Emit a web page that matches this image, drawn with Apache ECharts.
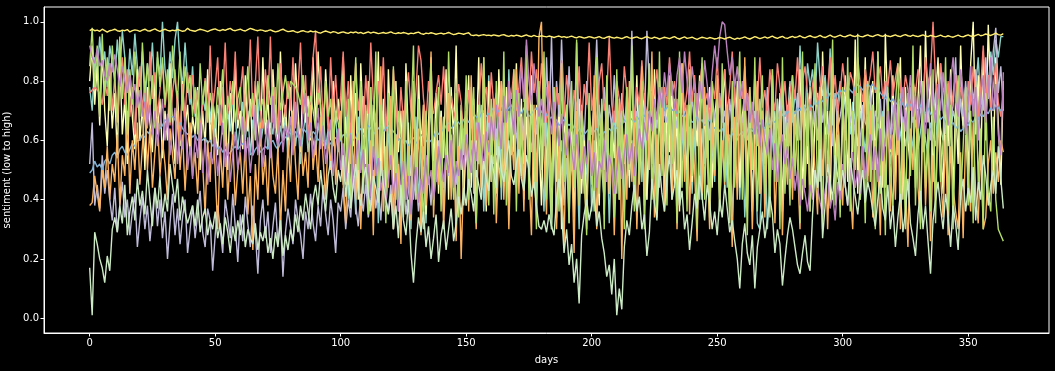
<!DOCTYPE html>
<html>
<head>
<meta charset="utf-8">
<script src="https://cdn.jsdelivr.net/npm/echarts@6/dist/echarts.min.js"></script>
<style>html,body{margin:0;padding:0;background:#000}#c{width:1055px;height:371px}</style>
</head>
<body>
<div id="c"></div>
<script>
const xTicks = [0,50,100,150,200,250,300,350];
const yTicks = [0,0.2,0.4,0.6,0.8,1.0];
const colors = ['#8dd3c7','#feffb3','#bfbbd9','#fa8174','#81b1d2','#fdb462','#b3de69','#bc82bd','#ccebc4','#ffed6f'];

const s1 = [.78,.7,.88,.82,.95,.84,.9,.78,.92,.86,
.8,.94,.83,.97,.88,.76,.91,.82,.96,.85,
.78,.9,.72,.86,.8,.93,.75,.88,.82,1.0,
.84,.77,.9,.81,.94,1.0,.86,.78,.93,.8,
.72,.85,.68,.78,.62,.75,.7,.82,.66,.76,
.6,.72,.65,.78,.58,.7,.63,.75,.68,.57,
.66,.73,.6,.7,.55,.67,.62,.74,.58,.64,
.7,.57,.66,.62,.72,.56,.65,.6,.68,.54,
.63,.7,.58,.66,.52,.62,.69,.56,.64,.6,
.55,.66,.6,.71,.57,.64,.5,.62,.68,.56,
.66,.45,.72,.4,.62,.55,.35,.68,.5,.75,
.42,.6,.78,.38,.64,.32,.56,.7,.44,.6,
.74,.48,.62,.36,.58,.7,.4,.66,.3,.54,
.68,.38,.6,.5,.32,.62,.72,.42,.58,.46,
.7,.36,.56,.76,.44,.62,.34,.52,.68,.4,
.64,.48,.78,.42,.6,.52,.72,.36,.58,.82,
.46,.7,.55,.8,.4,.66,.5,.84,.58,.74,
.44,.76,.6,.52,.82,.48,.7,.6,.4,.72,
.58,.36,.68,.5,.3,.64,.34,.52,.6,.38,
.54,.32,.66,.44,.58,.3,.62,.42,.5,.68,
.36,.6,.46,.72,.5,.4,.64,.32,.56,.7,
.42,.62,.54,.36,.7,.48,.6,.38,.56,.74,
.46,.66,.4,.6,.76,.5,.42,.68,.56,.78,
.48,.7,.44,.6,.74,.38,.58,.7,.46,.64,
.42,.6,.76,.4,.64,.52,.7,.36,.6,.46,
.7,.38,.56,.66,.44,.62,.34,.54,.68,.4,
.62,.34,.52,.68,.4,.58,.32,.3,.54,.64,
.3,.48,.6,.7,.5,.62,.76,.56,.68,.8,
.66,.76,.7,.92,.74,.68,.86,.78,.84,.72,
.93,.8,.75,.82,.7,.91,.65,.76,.72,.8,
.68,.75,.7,.62,.73,.66,.58,.7,.64,.56,
.68,.6,.72,.55,.66,.62,.7,.58,.64,.52,
.6,.66,.55,.62,.68,.58,.64,.54,.6,.67,
.57,.63,.7,.6,.55,.66,.62,.58,.72,.64,
.6,.68,.75,.62,.7,.66,.8,.72,.65,.76,
.7,.82,.74,.78,.88,.72,.8,.85,.76,.9,
.82,.94,.88,.95,.95];

const s2 = [.8,.92,.72,.85,.65,.9,.7,.58,.82,.64,
.76,.55,.88,.62,.74,.52,.8,.68,.57,.84,
.6,.72,.5,.78,.66,.56,.82,.62,.74,.54,
.7,.6,.86,.65,.52,.76,.58,.8,.64,.72,
.56,.68,.62,.78,.5,.7,.58,.84,.6,.74,
.66,.55,.8,.62,.72,.5,.76,.6,.86,.64,
.7,.57,.82,.63,.74,.55,.8,.66,.58,.88,
.62,.75,.56,.84,.68,.6,.9,.64,.72,.58,
.78,.62,.86,.7,.56,.82,.66,.75,.6,.88,
.64,.9,.7,.58,.84,.68,.6,.8,.66,.74,
.6,.88,.66,.45,.82,.58,.76,.4,.86,.64,
.52,.8,.42,.72,.6,.9,.48,.74,.38,.84,
.62,.44,.8,.56,.7,.36,.86,.6,.48,.76,
.4,.82,.58,.72,.35,.66,.88,.5,.76,.42,
.7,.54,.84,.4,.78,.6,.92,.46,.72,.38,
.64,.82,.44,.74,.56,.88,.42,.7,.36,.8,
.58,.74,.42,.84,.6,.46,.78,.35,.7,.56,
.86,.48,.74,.4,.68,.52,.82,.44,.72,.6,
.38,.78,.5,.7,.34,.66,.46,.76,.3,.62,
.72,.4,.66,.34,.6,.74,.42,.64,.36,.7,
.48,.76,.56,.38,.72,.5,.8,.42,.66,.54,
.74,.4,.68,.52,.78,.44,.7,.58,.82,.46,
.66,.76,.4,.7,.52,.84,.46,.68,.76,.38,
.72,.56,.8,.44,.7,.36,.86,.6,.5,.78,
.46,.72,.58,.82,.4,.7,.54,.78,.44,.68,
.76,.42,.7,.84,.56,.38,.72,.5,.8,.44,
.68,.76,.46,.7,.36,.64,.78,.42,.7,.52,
.74,.4,.82,.58,.46,.76,.36,.7,.54,.78,
.44,.7,.6,.84,.4,.72,.52,.78,.42,.68,
.76,.46,.9,.6,.7,.38,.8,.52,.72,.4,
.66,.82,.46,.74,.56,.94,.42,.78,.6,.88,
.48,.72,.8,.5,.9,.66,.44,.96,.7,.56,
.82,.46,.72,.88,.4,.78,.6,.5,.84,.44,
.74,.92,.56,.97,.66,.82,.46,.74,.88,.6,
.42,.8,.58,.84,.4,.74,.52,.92,.64,.78,
.46,.86,1.0,.62,.82,.5,.9,.6,.99,.74,
.5,.88,.66,.45,.8];

const s3 = [.52,.66,.38,.45,.37,.55,.42,.5,.4,.33,
.44,.29,.38,.46,.34,.4,.28,.36,.42,.24,
.33,.41,.3,.38,.26,.35,.44,.31,.4,.27,
.36,.2,.32,.42,.28,.37,.25,.34,.4,.22,
.3,.38,.27,.35,.43,.29,.24,.37,.33,.16,
.28,.38,.3,.22,.4,.34,.27,.42,.31,.19,
.35,.26,.41,.32,.24,.38,.29,.15,.33,.4,
.27,.36,.22,.31,.39,.25,.34,.14,.29,.37,
.31,.25,.4,.33,.28,.2,.36,.3,.42,.32,
.26,.38,.31,.45,.35,.28,.4,.33,.22,.39,
.36,.44,.3,.4,.34,.48,.38,.31,.42,.36,
.46,.34,.4,.5,.37,.44,.33,.48,.4,.36,
.45,.3,.42,.52,.38,.47,.35,.43,.55,.4,
.5,.36,.44,.58,.42,.48,.38,.53,.46,.6,
.5,.44,.56,.48,.62,.52,.45,.58,.5,.64,
.55,.48,.6,.52,.66,.56,.5,.62,.54,.68,
.58,.52,.64,.56,.7,.6,.5,.66,.58,.72,
.62,.55,.68,.6,.74,.64,.56,.7,.62,.78,
.66,.58,.88,.64,.95,.6,.8,.68,.94,.7,
.62,.85,.66,.58,.93,.64,.72,.6,.8,.68,
.62,.74,.94,.7,.66,.78,.6,.72,.64,.82,
.68,.6,.76,.66,.72,.58,.97,.64,.7,.62,
.74,.66,.97,.78,.68,.72,.64,.8,.62,.7,
.66,.74,.58,.7,.64,.78,.6,.72,.68,.62,
.75,.64,.7,.58,.8,.66,.72,.6,.74,.68,
.62,.76,.66,.7,.58,.74,.64,.78,.6,.7,
.66,.72,.6,.76,.64,.7,.58,.74,.66,.62,
.78,.64,.7,.6,.74,.66,.8,.62,.72,.58,
.7,.64,.76,.6,.68,.72,.58,.74,.64,.7,
.6,.78,.66,.72,.62,.7,.58,.76,.64,.68,
.74,.6,.82,.66,.7,.62,.76,.58,.72,.66,
.64,.78,.6,.7,.66,.74,.58,.8,.68,.62,
.72,.66,.58,.76,.64,.7,.6,.78,.66,.72,
.62,.7,.8,.66,.74,.6,.68,.76,.64,.86,
.7,.62,.78,.66,.72,.88,.64,.74,.68,.8,
.66,.76,.7,.84,.62,.78,.7,.88,.74,.8,
.9,.98,.76,.85,.7];

const s4 = [.76,.77,.78,.77,.76,.72,.8,.75,.86,.7,
.82,.66,.79,.88,.72,.84,.68,.78,.62,.75,
.85,.7,.8,.64,.9,.74,.83,.68,.77,.86,
.71,.8,.65,.76,.84,.7,.6,.79,.67,.83,
.74,.82,.69,.77,.63,.72,.81,.66,.92,.7,
.78,.88,.65,.74,.93,.69,.8,.72,.9,.67,
.76,.85,.62,.73,.94,.68,.79,.95,.7,.64,
.84,.72,.95,.66,.78,.62,.86,.74,.68,.8,
.7,.88,.64,.77,.93,.69,.82,.6,.75,.88,
.97,.72,.85,.66,.78,.63,.88,.7,.82,.67,
.75,.9,.68,.8,.62,.73,.86,.7,.78,.64,
.82,.69,.93,.74,.66,.8,.71,.88,.63,.76,
.68,.84,.72,.6,.78,.66,.75,.83,.7,.64,
.77,.92,.87,.74,.66,.8,.71,.69,.76,.82,
.72,.85,.68,.63,.75,.7,.66,.79,.73,.61,
.68,.77,.64,.72,.6,.7,.86,.74,.78,.66,
.83,.71,.76,.68,.8,.72,.65,.79,.74,.84,
.7,.78,.88,.73,.82,.7,.9,.76,.84,.72,
.86,.75,.66,.8,.7,.62,.78,.72,.87,.68,
.82,.74,.63,.77,.7,.85,.66,.79,.72,.93,
.7,.78,.64,.8,.86,.7,.75,.95,.72,.66,
.8,.74,.68,.85,.76,.7,.82,.66,.78,.72,
.87,.74,.68,.8,.71,.76,.84,.7,.65,.78,
.72,.88,.75,.8,.68,.74,.83,.7,.77,.9,
.73,.82,.69,.78,.86,.72,.76,.67,.8,.74,
.88,.71,.76,.84,.69,.78,.9,.73,.66,.8,
.74,.85,.7,.78,.64,.82,.73,.88,.71,.77,
.68,.84,.75,.7,.86,.78,.72,.8,.67,.76,
.82,.74,.88,.71,.8,.85,.76,.7,.79,.83,
.72,.78,.85,.7,.77,.88,.74,.82,.69,.76,
.86,.78,.72,.83,.8,.75,.88,.79,.73,.84,
.77,.82,.9,.76,.8,.85,.74,.8,.78,.87,
.75,.81,.86,.78,.72,.82,.77,.7,.8,.76,
.84,.78,.73,.88,.79,.83,1.0,.8,.74,.86,
.78,.72,.8,.68,.76,.82,.7,.78,.74,.66,
.8,.72,.85,.75,.68,.78,.92,.74,.82,.7,
.78,.86,.73,.68,.77];

const s5 = [.49,.5,.53,.51,.52,.5,.53,.54,.52,.55,
.56,.54,.57,.58,.56,.55,.57,.59,.58,.6,
.6,.62,.61,.63,.62,.64,.65,.66,.64,.65,
.67,.66,.68,.68,.67,.65,.66,.64,.63,.62,
.63,.61,.62,.6,.61,.6,.61,.59,.6,.58,
.59,.57,.58,.56,.57,.55,.56,.57,.58,.57,
.58,.59,.57,.58,.56,.55,.57,.58,.56,.57,
.58,.57,.59,.6,.58,.57,.59,.6,.61,.62,
.63,.62,.63,.61,.62,.64,.63,.62,.61,.63,
.62,.6,.61,.59,.6,.58,.59,.6,.61,.59,
.6,.62,.61,.63,.62,.6,.61,.63,.64,.62,
.63,.65,.64,.62,.63,.64,.65,.63,.64,.65,
.64,.63,.62,.6,.61,.59,.6,.58,.6,.61,
.59,.6,.62,.61,.6,.59,.6,.61,.63,.62,
.64,.63,.65,.66,.64,.65,.67,.66,.65,.67,
.68,.66,.67,.69,.68,.67,.69,.7,.68,.69,
.7,.71,.69,.7,.72,.71,.7,.71,.72,.7,
.71,.7,.69,.71,.7,.68,.69,.7,.71,.69,
.7,.68,.69,.67,.68,.66,.67,.65,.66,.67,
.66,.65,.66,.64,.65,.63,.64,.62,.63,.64,
.62,.63,.64,.62,.61,.63,.62,.64,.63,.65,
.64,.66,.65,.67,.66,.68,.67,.66,.68,.67,
.69,.68,.7,.69,.71,.7,.69,.71,.72,.7,
.71,.72,.7,.71,.69,.7,.68,.69,.67,.68,
.66,.67,.68,.66,.67,.65,.66,.67,.65,.64,
.65,.63,.64,.62,.63,.61,.62,.63,.61,.62,
.63,.61,.62,.64,.63,.65,.64,.66,.65,.64,
.66,.65,.67,.66,.68,.67,.69,.68,.7,.69,
.7,.69,.71,.7,.72,.71,.7,.72,.71,.73,
.72,.74,.73,.75,.74,.76,.75,.74,.76,.77,
.76,.77,.78,.77,.76,.78,.79,.78,.77,.78,
.79,.78,.79,.77,.78,.76,.75,.74,.75,.73,
.74,.72,.73,.74,.72,.71,.73,.72,.7,.71,
.7,.72,.7,.69,.71,.69,.68,.7,.69,.67,
.68,.66,.67,.65,.66,.64,.65,.63,.64,.66,
.65,.67,.66,.68,.67,.69,.68,.7,.69,.71,
.7,.72,.71,.7,.71];

const s6 = [.38,.39,.48,.42,.36,.5,.44,.58,.4,.52,
.46,.62,.38,.55,.48,.7,.42,.6,.5,.66,
.45,.58,.72,.5,.64,.44,.56,.68,.48,.6,
.52,.4,.64,.55,.47,.7,.5,.62,.43,.58,
.66,.48,.56,.42,.62,.52,.35,.6,.46,.7,
.5,.3,.58,.44,.66,.4,.54,.62,.38,.5,
.56,.42,.6,.35,.48,.23,.52,.4,.66,.45,
.55,.38,.62,.48,.42,.58,.3,.5,.36,.6,
.46,.7,.52,.4,.64,.48,.56,.44,.72,.5,
.6,.46,.68,.54,.4,.62,.5,.74,.45,.58,
.7,.45,.32,.68,.52,.8,.4,.62,.3,.55,
.72,.38,.6,.28,.66,.48,.85,.36,.58,.44,
.75,.3,.62,.5,.25,.7,.42,.58,.33,.8,
.46,.64,.28,.72,.38,.55,.9,.34,.6,.45,
.68,.3,.52,.76,.4,.62,.26,.58,.2,.48,
.7,.36,.82,.5,.3,.64,.44,.88,.38,.6,
.46,.74,.32,.56,.8,.4,.66,.3,.62,.5,
.84,.42,.68,.36,.9,.5,.28,.72,.46,.95,
1.0,.55,.35,.7,.44,.78,.3,.6,.5,.25,
.66,.4,.56,.22,.7,.38,.6,.48,.3,.72,
.45,.82,.3,.58,.68,.35,.76,.42,.6,.28,
.55,.74,.2,.62,.4,.8,.46,.66,.3,.58,
.85,.38,.7,.5,.9,.34,.62,.44,.78,.36,
.56,.8,.4,.68,.3,.6,.86,.46,.72,.35,
.64,.5,.26,.7,.42,.78,.55,.3,.66,.48,
.82,.38,.6,.44,.72,.52,.24,.68,.4,.76,
.5,.88,.36,.64,.3,.58,.8,.42,.7,.34,
.62,.46,.84,.32,.56,.7,.28,.6,.45,.74,
.4,.68,.52,.3,.8,.44,.72,.36,.64,.5,
.35,.78,.48,.62,.3,.56,.86,.42,.7,.52,
.38,.66,.8,.44,.3,.6,.74,.4,.55,.82,
.46,.7,.34,.6,.52,.28,.68,.44,.76,.36,
.62,.4,.72,.3,.58,.46,.24,.64,.5,.78,
.44,.32,.7,.38,.6,.26,.55,.4,.68,.48,
.34,.62,.28,.58,.44,.36,.3,.56,.27,.62,
.48,.36,.66,.42,.32,.58,.3,.34,.52,.6,
.42,.56,.46,.6,.56];

const s7 = [.85,.98,.78,.92,.68,.96,.75,.88,.7,.92,
.8,.66,.95,.74,.88,.62,.84,.72,.9,.78,
.68,.93,.76,.86,.7,.82,.64,.9,.78,.88,
.72,.84,.66,.92,.8,.74,.9,.7,.85,.76,
.82,.68,.78,.62,.86,.72,.8,.66,.76,.7,
.64,.78,.72,.84,.6,.75,.7,.8,.66,.74,
.78,.62,.72,.85,.68,.76,.6,.8,.7,.74,
.66,.82,.72,.78,.64,.86,.7,.76,.82,.74,
.8,.79,.78,.76,.72,.82,.7,.68,.75,.7,
.64,.76,.72,.6,.8,.68,.74,.58,.7,.66,
.6,.82,.45,.74,.38,.66,.88,.5,.8,.42,
.7,.35,.78,.55,.9,.44,.72,.6,.32,.76,
.5,.85,.4,.7,.62,.34,.8,.48,.66,.92,
.42,.74,.56,.3,.7,.48,.86,.38,.64,.78,
.36,.68,.5,.9,.58,.4,.76,.34,.7,.55,
.82,.4,.66,.78,.32,.72,.5,.88,.6,.38,
.74,.35,.8,.52,.44,.9,.38,.7,.55,.84,
.36,.76,.48,.66,.92,.4,.72,.58,.3,.8,
.5,.9,.4,.68,.3,.78,.56,.36,.86,.46,
.72,.32,.8,.44,.94,.38,.7,.5,.28,.76,
.52,.36,.88,.42,.74,.3,.82,.46,.66,.34,
.84,.4,.7,.3,.78,.5,.92,.36,.68,.45,
.8,.3,.62,.86,.4,.72,.34,.9,.48,.66,
.38,.82,.52,.74,.32,.9,.44,.68,.36,.84,
.48,.76,.3,.66,.88,.4,.72,.34,.8,.5,
.74,.36,.86,.46,.62,.32,.8,.44,.7,.9,
.4,.72,.28,.78,.5,.88,.36,.64,.82,.42,
.7,.34,.84,.46,.74,.3,.88,.42,.66,.38,
.82,.48,.7,.32,.9,.44,.76,.36,.64,.86,
.4,.74,.3,.8,.5,.68,.94,.38,.62,.34,
.78,.44,.88,.36,.7,.5,.96,.4,.64,.32,
.8,.46,.72,.3,.9,.42,.68,.28,.78,.5,
.36,.72,.86,.4,.66,.3,.76,.48,.92,.38,
.7,.3,.8,.44,.64,.36,.84,.32,.74,.46,
.6,.88,.36,.72,.3,.66,.82,.4,.58,.78,
.38,.7,.32,.8,.46,.64,.3,.76,.42,.36,
.68,.4,.3,.28,.26];

const s8 = [.92,.88,.86,.91,.85,.87,.82,.8,.86,.83,
.89,.84,.78,.85,.8,.76,.82,.74,.79,.71,
.77,.68,.73,.65,.72,.62,.7,.58,.66,.74,
.6,.69,.55,.64,.71,.52,.63,.57,.68,.5,
.58,.47,.62,.54,.66,.49,.6,.45,.56,.52,
.61,.48,.57,.66,.51,.59,.46,.55,.63,.5,
.57,.68,.53,.61,.49,.58,.72,.55,.64,.51,
.6,.67,.54,.75,.62,.58,.7,.56,.65,.61,
.68,.55,.73,.63,.58,.69,.76,.6,.66,.54,
.62,.71,.57,.65,.52,.6,.67,.48,.58,.64,
.5,.59,.46,.55,.62,.44,.53,.6,.49,.57,
.45,.52,.41,.58,.48,.54,.43,.5,.38,.47,
.55,.42,.49,.36,.46,.53,.4,.48,.35,.44,
.51,.39,.47,.42,.55,.45,.5,.4,.47,.58,
.52,.46,.55,.49,.6,.44,.53,.48,.57,.5,
.62,.55,.49,.6,.53,.66,.58,.51,.63,.56,
.68,.6,.72,.64,.57,.75,.66,.8,.7,.62,
.77,.68,.85,.74,.94,.8,.72,.86,.76,.68,
.74,.66,.78,.7,.62,.73,.65,.58,.69,.61,
.55,.64,.57,.5,.62,.54,.47,.58,.52,.6,
.48,.56,.44,.53,.5,.6,.46,.55,.51,.42,
.5,.58,.47,.55,.62,.52,.59,.48,.56,.64,
.57,.66,.6,.7,.63,.74,.67,.78,.71,.83,
.75,.86,.78,.7,.82,.88,.76,.9,.8,.72,
.85,.78,.68,.8,.74,.87,.79,.71,.83,.92,
.84,.95,1.0,.99,.9,.82,.88,.78,.85,.74,
.8,.7,.76,.66,.73,.62,.7,.58,.67,.6,
.55,.64,.5,.59,.46,.56,.62,.52,.58,.47,
.54,.43,.5,.38,.47,.42,.36,.45,.4,.5,
.44,.39,.35,.43,.48,.37,.42,.33,.46,.4,
.52,.45,.38,.49,.56,.44,.5,.42,.58,.47,
.55,.62,.5,.58,.46,.64,.53,.6,.7,.57,
.66,.74,.6,.69,.78,.63,.72,.82,.68,.75,
.64,.8,.7,.62,.76,.86,.72,.66,.79,.7,
.83,.74,.65,.8,.88,.73,.68,.84,.76,.62,
.72,.85,.68,.78,.6,.74,.82,.66,.77,.88,
.7,.79,.62,.55,.83];

const s9 = [.17,.01,.29,.25,.2,.17,.12,.21,.16,.3,
.34,.29,.38,.32,.45,.28,.36,.41,.33,.47,
.38,.43,.35,.5,.4,.31,.44,.37,.48,.34,
.42,.36,.52,.45,.39,.47,.33,.41,.36,.32,
.35,.38,.31,.4,.29,.34,.37,.28,.33,.3,
.36,.27,.32,.25,.34,.29,.22,.31,.26,.33,
.28,.35,.24,.3,.27,.25,.32,.23,.29,.26,
.31,.22,.27,.2,.29,.24,.33,.21,.28,.23,
.3,.26,.35,.29,.38,.33,.42,.36,.3,.4,
.45,.38,.5,.42,.36,.48,.53,.44,.39,.5,
.46,.55,.41,.49,.37,.45,.52,.43,.38,.47,
.51,.42,.36,.48,.44,.39,.53,.45,.4,.35,
.42,.3,.38,.27,.45,.33,.28,.4,.22,.12,
.25,.34,.29,.36,.24,.31,.2,.27,.35,.19,
.28,.33,.23,.3,.37,.26,.32,.41,.35,.44,
.38,.47,.42,.36,.5,.45,.4,.53,.47,.43,
.55,.49,.44,.58,.5,.46,.53,.6,.48,.45,
.52,.57,.47,.43,.55,.5,.41,.46,.38,.31,
.3,.33,.29,.35,.31,.28,.4,.47,.36,.22,
.3,.18,.25,.12,.2,.05,.28,.35,.4,.33,
.38,.43,.31,.36,.27,.22,.14,.18,.08,.2,
.01,.1,.03,.24,.33,.28,.38,.45,.36,.41,
.3,.35,.21,.29,.47,.39,.33,.52,.42,.36,
.48,.55,.4,.45,.5,.38,.43,.3,.35,.23,
.32,.42,.37,.48,.41,.33,.45,.39,.3,.36,
.28,.4,.34,.45,.37,.29,.33,.26,.2,.1,
.25,.32,.22,.18,.28,.1,.24,.3,.36,.27,
.33,.41,.35,.22,.3,.25,.11,.2,.28,.34,
.3,.24,.18,.15,.22,.28,.19,.16,.35,.5,
.44,.57,.27,.38,.52,.46,.4,.55,.48,.43,
.5,.45,.38,.54,.47,.41,.35,.44,.5,.39,
.46,.42,.36,.31,.4,.48,.37,.33,.45,.3,
.38,.24,.34,.42,.29,.36,.47,.32,.27,.21,
.35,.43,.3,.38,.26,.15,.33,.4,.46,.37,
.3,.42,.35,.24,.38,.32,.23,.41,.47,.36,
.44,.39,.51,.33,.46,.4,.55,.48,.38,.45,
.5,.42,.58,.47,.37];

const s10 = [.97,.975,.97,.972,.968,.975,.97,.965,.97,.972,
.975,.97,.968,.972,.97,.974,.966,.97,.973,.971,
.968,.972,.975,.97,.969,.973,.976,.971,.968,.972,
.975,.971,.969,.972,.97,.974,.971,.968,.97,.978,
.972,.97,.968,.972,.975,.973,.97,.967,.971,.974,
.976,.972,.97,.974,.971,.975,.978,.972,.97,.973,
.975,.971,.969,.974,.978,.975,.972,.97,.973,.971,
.968,.97,.973,.969,.966,.968,.972,.975,.97,.967,
.968,.97,.966,.964,.968,.97,.967,.965,.969,.966,
.968,.964,.962,.966,.969,.966,.963,.967,.965,.961,
.964,.966,.963,.961,.965,.963,.966,.962,.964,.96,
.963,.966,.962,.965,.963,.96,.962,.964,.961,.963,
.966,.962,.96,.963,.961,.964,.962,.959,.962,.96,
.963,.965,.96,.958,.962,.96,.963,.961,.958,.96,
.962,.959,.961,.964,.96,.957,.959,.962,.96,.958,
.961,.963,.955,.954,.956,.953,.955,.957,.954,.955,
.953,.956,.954,.952,.955,.957,.953,.951,.954,.952,
.955,.953,.95,.953,.956,.952,.95,.954,.951,.95,
.953,.951,.949,.952,.95,.947,.95,.952,.948,.95,
.947,.949,.952,.948,.946,.95,.948,.945,.947,.95,
.948,.945,.947,.95,.946,.944,.948,.951,.947,.945,
.948,.946,.943,.947,.95,.946,.944,.947,.949,.945,
.943,.947,.95,.946,.944,.948,.946,.942,.945,.948,
.946,.943,.947,.95,.945,.942,.946,.949,.944,.946,
.948,.944,.941,.945,.948,.946,.943,.947,.945,.942,
.944,.947,.945,.942,.946,.948,.944,.941,.945,.943,
.946,.949,.945,.942,.946,.95,.947,.943,.946,.949,
.945,.948,.952,.947,.944,.948,.951,.946,.944,.948,
.951,.947,.949,.953,.948,.946,.95,.953,.949,.947,
.95,.954,.949,.947,.951,.955,.95,.948,.952,.955,
.951,.949,.953,.956,.952,.95,.954,.951,.949,.953,
.956,.952,.95,.954,.957,.953,.951,.955,.952,.95,
.953,.956,.952,.95,.954,.957,.953,.951,.955,.952,
.95,.953,.956,.952,.95,.954,.952,.949,.952,.955,
.951,.949,.953,.95,.948,.952,.955,.951,.949,.953,
.956,.952,.95,.954,.958,.953,.955,.959,.956,.954,
.958,.962,.957,.955,.96];

const allSeries = [s1,s2,s3,s4,s5,s6,s7,s8,s9,s10];

const chart = echarts.init(document.getElementById('c'), null, {renderer:'canvas'});
const txt = '#ffffff';
const font = 'DejaVu Sans';
chart.setOption({
  backgroundColor:'#000000',
  animation:false,
  grid:{left:44,right:6,top:7,bottom:38,containLabel:false,outerBoundsMode:'none',show:true,borderColor:'#ffffff',borderWidth:1,backgroundColor:'#000000'},
  xAxis:{
    type:'value', min:-18.2, max:382.2,
    name:'days', nameLocation:'middle', nameGap:22,
    nameTextStyle:{color:txt,fontSize:10,fontFamily:font},
    axisLine:{show:true,onZero:false,lineStyle:{color:'#ffffff',width:1}},
    axisTick:{show:true,inside:false,length:3.5,lineStyle:{color:'#ffffff'},customValues:xTicks},
    axisLabel:{color:txt,fontSize:10,fontFamily:font,margin:5,customValues:xTicks},
    splitLine:{show:false}
  },
  yAxis:{
    type:'value', min:-0.05, max:1.05,
    name:'sentiment (low to high)', nameLocation:'middle', nameGap:32, nameRotate:90,
    nameTextStyle:{color:txt,fontSize:10,fontFamily:font},
    axisLine:{show:true,onZero:false,lineStyle:{color:'#ffffff',width:1}},
    axisTick:{show:true,inside:false,length:3.5,lineStyle:{color:'#ffffff'},customValues:yTicks},
    axisLabel:{color:txt,fontSize:10,fontFamily:font,margin:5,customValues:yTicks,formatter:v=>v.toFixed(1)},
    splitLine:{show:false}
  },
  series: allSeries.map((arr,i)=>({
    type:'line',
    data: arr.map((v,d)=>[d,v]),
    showSymbol:false,
    symbol:'none',
    lineStyle:{color:colors[i],width:1.4},
    itemStyle:{color:colors[i]},
    z:2+i,
    silent:true
  }))
});
</script>
</body>
</html>
